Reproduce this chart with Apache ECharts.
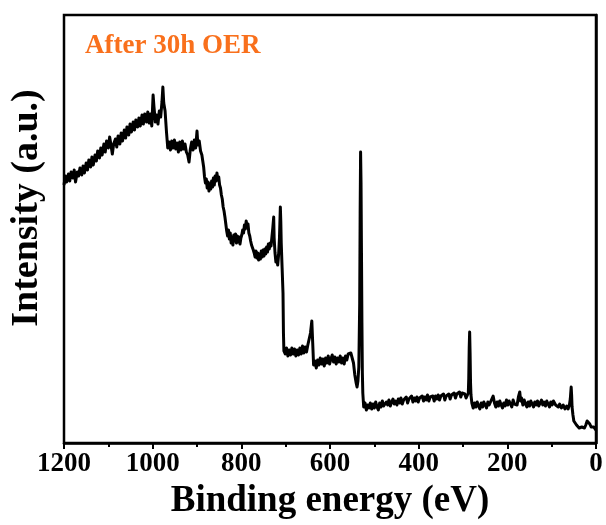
<!DOCTYPE html>
<html><head><meta charset="utf-8">
<script src="https://cdn.jsdelivr.net/npm/echarts@6/dist/echarts.min.js"></script>
<style>html,body{margin:0;padding:0;background:#fff}#c{width:606px;height:525px}</style>
</head><body><div id="c"></div>
<script>
// XPS survey: [binding energy (eV), intensity (a.u.)]
const surveyPoints = [
[1200,258],[1197,267],[1194,261],[1190,269],[1187,262],[1184,271],[1180,265],[1177,273],[1174,261],[1170,271],
[1167,267],[1164,275],[1160,268],[1157,277],[1154,270],[1150,280],[1147,273],[1144,283],[1140,276],[1137,286],
[1134,278],[1130,288],[1127,282],[1124,292],[1120,285],[1117,295],[1114,288],[1110,299],[1107,291],[1104,302],
[1100,295],[1097,306],[1094,298],[1091,289],[1088,299],[1084,304],[1081,296],[1078,307],[1074,299],[1071,310],
[1068,302],[1064,313],[1061,305],[1058,316],[1054,308],[1051,319],[1048,311],[1044,321],[1041,313],[1038,323],
[1034,316],[1031,325],[1028,317],[1024,328],[1021,319],[1018,329],[1014,321],[1011,331],[1008,320],[1005,329],
[1002,317],[999,348],[997,336],[994,321],[991,328],[988,319],[985,332],[982,326],[979,341],[977,356],
[975,340],[972,332],[969,312],[966,295],[963,301],[960,293],[957,302],[954,295],[951,303],[948,294],
[945,300],[942,291],[939,301],[936,293],[933,302],[930,294],[927,299],[924,291],[921,288],[918,281],
[915,294],[912,301],[909,293],[906,303],[903,295],[900,312],[898,298],[895,302],[892,292],[889,288],
[887,282],[885,276],[883,266],[881,260],[879,264],[877,255],[875,261],[873,252],[871,259],[869,254],
[867,262],[865,256],[863,265],[861,258],[859,267],[857,262],[855,270],[853,263],[851,266],[849,258],
[847,255],[845,248],[843,244],[841,236],[839,232],[837,226],[835,219],[833,212],[831,207],[829,213],
[827,204],[825,210],[823,200],[821,206],[819,198],[817,208],[815,202],[813,209],[811,200],[809,207],
[807,201],[805,206],[803,199],[801,205],[799,208],[797,213],[795,210],[793,218],[791,214],[789,222],
[787,216],[785,219],[783,210],[781,207],[779,202],[777,198],[775,200],[773,193],[771,190],[769,186],
[767,192],[765,185],[763,190],[761,183],[759,189],[757,184],[755,192],[753,186],[751,193],[749,187],
[747,194],[745,189],[743,196],[741,191],[739,199],[737,194],[735,200],[733,197],[731,206],[729,215],
[727,226],[726,205],[724,190],[722,181],[720,186],[718,178],[716,188],[714,205],[712,236],[711,222],
[710,200],[708,175],[706,150],[705,110],[704,92],[701,89],[698,95],[695,87],[692,93],[689,88],
[686,95],[683,89],[680,94],[677,87],[674,93],[671,88],[668,95],[665,89],[662,97],[659,90],
[656,96],[653,91],[650,98],[647,100],[644,110],[641,122],[639,100],[637,78],[634,82],[631,75],
[628,83],[625,78],[622,85],[619,79],[616,84],[613,77],[610,85],[607,80],[604,87],[601,79],
[598,84],[595,88],[592,81],[589,86],[586,79],[583,85],[580,81],[577,87],[574,80],[571,85],
[568,79],[565,87],[562,83],[559,89],[556,91],[553,90],[550,88],[547,80],[544,68],[541,60],
[539,56],[537,62],[535,76],[533,140],[532,230],[531,291],[530,260],[529,190],[528,120],[527,70],
[526,50],[524,36],[521,40],[518,33],[515,38],[512,35],[509,40],[506,34],[503,39],[500,35],
[497,41],[494,36],[491,33],[488,40],[485,36],[482,42],[479,37],[476,35],[473,41],[470,38],
[467,43],[464,37],[461,41],[458,44],[455,39],[452,42],[449,38],[446,44],[443,40],[440,45],
[437,39],[434,43],[431,41],[428,46],[425,40],[422,44],[419,42],[416,47],[413,41],[410,45],
[407,42],[404,46],[401,41],[398,45],[395,43],[392,47],[389,42],[386,46],[383,43],[380,48],
[377,42],[374,46],[371,44],[368,47],[365,42],[362,47],[359,44],[356,48],[353,43],[350,47],
[347,45],[344,49],[341,43],[338,47],[335,45],[332,49],[329,44],[326,48],[323,46],[320,50],
[317,45],[314,49],[311,47],[308,51],[305,46],[302,50],[299,48],[296,49],[293,45],[290,44],
[288,50],[287,65],[286,95],[285,111],[284,90],[283,60],[282,48],[280,40],[277,35],[274,40],
[271,36],[268,41],[265,37],[262,34],[259,40],[256,36],[253,41],[250,38],[247,35],[244,41],
[241,38],[238,40],[235,44],[232,47],[229,40],[226,36],[223,41],[220,37],[217,42],[214,38],
[211,35],[208,40],[205,37],[202,43],[199,38],[196,42],[193,39],[190,36],[187,43],[184,39],
[181,41],[178,38],[175,46],[172,51],[170,42],[168,45],[165,38],[162,43],[159,39],[156,36],
[153,41],[150,37],[147,42],[144,39],[141,36],[138,41],[135,38],[132,42],[129,37],[126,40],
[123,43],[120,38],[117,41],[114,37],[111,42],[108,39],[105,36],[102,41],[99,38],[96,42],
[94,43],[91,38],[88,40],[85,36],[82,39],[78,35],[74,38],[70,34],[66,37],[63,34],
[60,38],[58,44],[56,56],[55,48],[54,36],[52,28],[50,22],[47,20],[44,18],[41,16],
[38,15],[35,17],[32,16],[29,17],[26,15],[23,18],[20,22],[17,23],[14,19],[11,16],
[9,14],[7,17],[5,16],[3,18],[1,15],[0,13]
];
const xMin = 0, xMax = 1200, xStep = 200;
const yMin = 0, yMax = 428;
const xTitle = 'Binding energy (eV)';
const yTitle = 'Intensity (a.u.)';
const annotation = 'After 30h OER';

const serif = '"Liberation Serif","Times New Roman",serif';
const chart = echarts.init(document.getElementById('c'), null, {renderer:'canvas'});
chart.setOption({
  animation:false,
  backgroundColor:'#fff',
  title:{text:annotation,left:80,top:28,textStyle:{fontFamily:serif,fontWeight:'bold',fontSize:27,color:'#F9701C'}},
  grid:{left:64,right:10,top:15,bottom:82,show:true,borderColor:'#000',borderWidth:2.5,backgroundColor:'transparent'},
  xAxis:{type:'value',min:xMin,max:xMax,interval:xStep,inverse:true,
    axisLine:{show:true,lineStyle:{color:'#000',width:2.5}},
    axisTick:{show:true,inside:false,length:6,lineStyle:{color:'#000',width:2}},
    minorTick:{show:true,splitNumber:2,length:4,lineStyle:{color:'#000',width:2}},
    splitLine:{show:false},
    axisLabel:{fontFamily:serif,fontWeight:'bold',fontSize:27,color:'#000',margin:8,
      formatter:function(v){return String(v);}},
    name:xTitle,nameLocation:'middle',nameGap:25,
    nameTextStyle:{fontFamily:serif,fontWeight:'bold',fontSize:37,color:'#000'}},
  yAxis:{type:'value',min:yMin,max:yMax,
    axisLine:{show:true,lineStyle:{color:'#000',width:2.5}},
    axisTick:{show:false},axisLabel:{show:false},splitLine:{show:false},
    name:yTitle,nameLocation:'middle',nameGap:18,
    nameTextStyle:{fontFamily:serif,fontWeight:'bold',fontSize:38,color:'#000',padding:[0,0,0,42]}},
  series:[{type:'line',data:surveyPoints,showSymbol:false,symbol:'none',
    lineStyle:{color:'#000',width:3,join:'round'},clip:true}]
});
</script></body></html>
